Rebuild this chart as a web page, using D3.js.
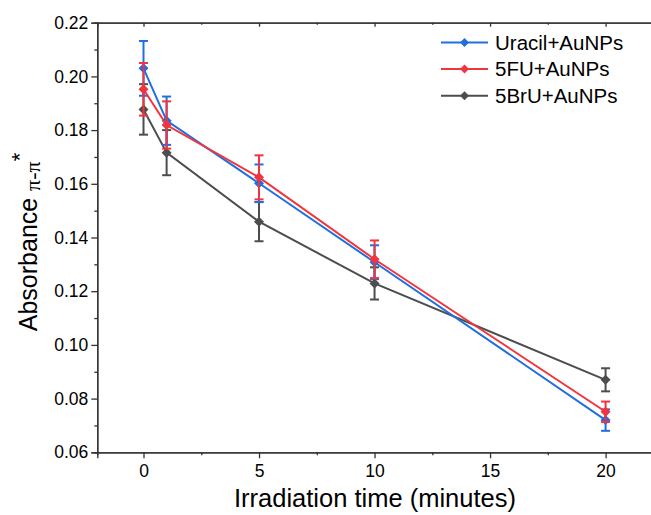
<!DOCTYPE html>
<html>
<head>
<meta charset="utf-8">
<script src="https://cdn.jsdelivr.net/npm/d3@7"></script>
<style>
html,body{margin:0;padding:0;background:#fff;}
svg{display:block;}
text{font-family:"Liberation Sans",Arial,sans-serif;}
</style>
</head>
<body>
<svg id="chart" width="651" height="515"></svg>
<script>
const times = [0, 1, 5, 10, 20];
const seriesNames = ["Uracil+AuNPs", "5FU+AuNPs", "5BrU+AuNPs"];
const uracilValues = [0.2030, 0.1835, 0.1602, 0.1308, 0.0720];
const uracilErrors = [0.0102, 0.0090, 0.0070, 0.0063, 0.0040];
const fuValues = [0.1952, 0.1819, 0.1624, 0.1319, 0.0751];
const fuErrors = [0.0098, 0.0088, 0.0082, 0.0070, 0.0038];
const bruValues = [0.1877, 0.1716, 0.1459, 0.1229, 0.0870];
const bruErrors = [0.0094, 0.0084, 0.0073, 0.0060, 0.0043];
const xTicks = [0, 5, 10, 15, 20];
const yTicks = [0.06, 0.08, 0.10, 0.12, 0.14, 0.16, 0.18, 0.20, 0.22];
const colors = ["#1f6fe0", "#f0353f", "#4d4d4d"];

const series = [
  {name: seriesNames[0], values: uracilValues, errors: uracilErrors, color: colors[0]},
  {name: seriesNames[1], values: fuValues, errors: fuErrors, color: colors[1]},
  {name: seriesNames[2], values: bruValues, errors: bruErrors, color: colors[2]}
];

const svg = d3.select("#chart");
const mLeft = 97.3, mRight = 698, mTop = 22.7, mBottom = 452.3;
const x = d3.scaleLinear().domain([-2, 24]).range([mLeft, mRight]);
const y = d3.scaleLinear().domain([0.06, 0.22]).range([mBottom, mTop]);

const axisColor = "#333";

const xMinor = d3.range(-2.5, 24, 2.5).filter(v => v > -2 && v < 24 && !xTicks.includes(v));
const yMinor = d3.range(0.07, 0.22, 0.02).map(v => +v.toFixed(2));

const gx = svg.append("g").attr("transform", `translate(0,${mBottom})`);
gx.call(d3.axisBottom(x).tickValues(xTicks).tickSize(6).tickPadding(6).tickFormat(d3.format("d")));
gx.append("g").call(d3.axisBottom(x).tickValues(xMinor).tickSize(3).tickFormat(""));
const gy = svg.append("g").attr("transform", `translate(${mLeft},0)`);
gy.call(d3.axisLeft(y).tickValues(yTicks).tickSize(6).tickPadding(3).tickFormat(d3.format(".2f")));
gy.append("g").call(d3.axisLeft(y).tickValues(yMinor).tickSize(3).tickFormat(""));
const gt = svg.append("g").attr("transform", `translate(0,${mTop})`);
gt.call(d3.axisTop(x).tickValues(xTicks).tickSize(-4).tickFormat(""));
gt.append("g").call(d3.axisTop(x).tickValues(xMinor).tickSize(-2).tickFormat(""));

svg.selectAll(".domain").attr("stroke", axisColor).attr("stroke-width", 1.3);
svg.selectAll(".tick line").attr("stroke", axisColor).attr("stroke-width", 1.3);
svg.selectAll(".tick text").attr("font-size", 17.5).attr("fill", "#000")
  .attr("font-family", "'Liberation Sans', Arial, sans-serif");

const drawOrder = [2, 0, 1];
const marker = d3.symbol().type(d3.symbolSquare).size(50);
drawOrder.forEach(i => {
  const s = series[i];
  const g = svg.append("g");
  const pts = times.map((t, k) => ({t, v: s.values[k], e: s.errors[k]}));
  g.append("path").datum(pts)
    .attr("fill", "none").attr("stroke", s.color).attr("stroke-width", 2)
    .attr("d", d3.line().x(d => x(d.t)).y(d => y(d.v)));
  const eb = g.selectAll(".eb").data(pts).enter().append("g");
  eb.append("line").attr("x1", d => x(d.t)).attr("x2", d => x(d.t))
    .attr("y1", d => y(d.v + d.e)).attr("y2", d => y(d.v - d.e))
    .attr("stroke", s.color).attr("stroke-width", 2);
  [1, -1].forEach(sg => {
    eb.append("line").attr("x1", d => x(d.t) - 4.5).attr("x2", d => x(d.t) + 4.5)
      .attr("y1", d => y(d.v + sg * d.e)).attr("y2", d => y(d.v + sg * d.e))
      .attr("stroke", s.color).attr("stroke-width", 2);
  });
  g.selectAll(".pt").data(pts).enter().append("path")
    .attr("d", marker)
    .attr("transform", d => `translate(${x(d.t)},${y(d.v)}) rotate(45)`)
    .attr("fill", s.color);
});

const legMarker = d3.symbol().type(d3.symbolSquare).size(40);
const legY = [42.5, 69, 95.7];
series.forEach((s, i) => {
  const g = svg.append("g").attr("transform", `translate(0,${legY[i]})`);
  g.append("line").attr("x1", 441).attr("x2", 488).attr("y1", 0).attr("y2", 0)
    .attr("stroke", s.color).attr("stroke-width", 2);
  g.append("path").attr("d", legMarker).attr("transform", "translate(464.5,0) rotate(45)").attr("fill", s.color);
  g.append("text").attr("x", 495).attr("y", 0).attr("dy", "0.36em")
    .attr("font-size", 20.5).attr("fill", "#000").text(s.name);
});

svg.append("text").attr("x", 375).attr("y", 507).attr("text-anchor", "middle")
  .attr("font-size", 25.5).attr("fill", "#000").text("Irradiation time (minutes)");

const yt = svg.append("text").attr("transform", "translate(37,242) rotate(-90)")
  .attr("text-anchor", "middle").attr("font-size", 25).attr("fill", "#000");
yt.append("tspan").text("Absorbance ");
yt.append("tspan").attr("font-family", "'Liberation Serif','Times New Roman',serif")
  .attr("font-size", 22).attr("dy", 3).text("π-π");
yt.append("tspan").attr("font-size", 22).attr("dy", -13).text("*");
</script>
</body>
</html>
